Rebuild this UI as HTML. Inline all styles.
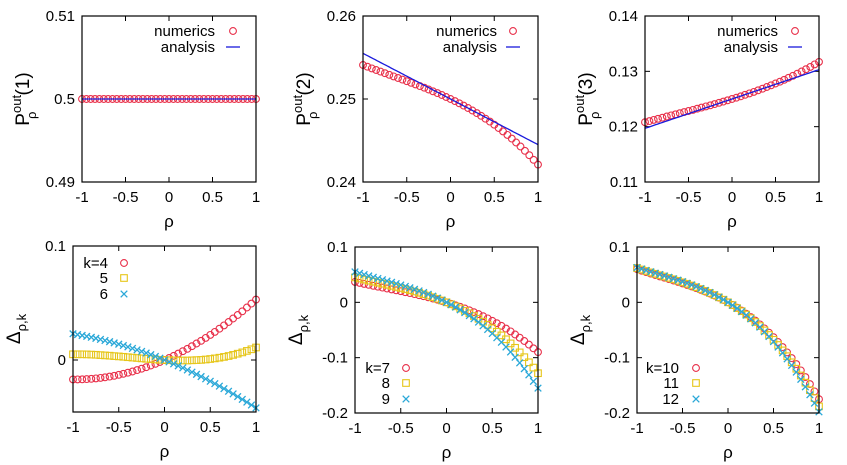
<!DOCTYPE html>
<html><head><meta charset="utf-8"><style>
body{margin:0;background:#fff;}
svg{display:block;font-family:"Liberation Sans",sans-serif;}
</style></head><body>
<svg id="s" width="847" height="465" xmlns="http://www.w3.org/2000/svg"></svg>
<script>
const S=document.getElementById('s');let h='';
const R='#e8304a',Y='#e6c619',C='#2aa8d8',B='#1a1adc';
function panel(p){
 const {x0,x1,y0,y1,ymin,ymax,yt,ylab}=p;
 const X=v=>x0+(v+1)/2*(x1-x0), Yf=v=>y1-(v-ymin)/(ymax-ymin)*(y1-y0);
 for(const t of [-1,-0.5,0,0.5,1]){const xx=X(t);
  h+=`<line x1="${xx}" y1="${y1}" x2="${xx}" y2="${y1-5}" stroke="#000"/><line x1="${xx}" y1="${y0}" x2="${xx}" y2="${y0+5}" stroke="#000"/>`;
  h+=`<text x="${xx}" y="${y1+20}" font-size="15" text-anchor="middle">${t}</text>`;}
 for(const t of yt){const yy=Yf(t[0]);
  h+=`<line x1="${x0}" y1="${yy}" x2="${x0+5}" y2="${yy}" stroke="#000"/><line x1="${x1}" y1="${yy}" x2="${x1-5}" y2="${yy}" stroke="#000"/>`;
  h+=`<text x="${x0-7}" y="${yy+5}" font-size="15" text-anchor="end">${t[1]}</text>`;}
 h+=`<text x="${(x0+x1)/2}" y="${y1+45}" font-size="17" text-anchor="middle">ρ</text>`;
 const cx=x0-53, cy=(y0+y1)/2;
 h+=`<g transform="translate(${cx},${cy}) rotate(-90)">${ylab}</g>`;
 for(const s of p.series){
  if(s.line){let d='';for(let i=0;i<=100;i++){const v=-1+i/50;d+=(i?'L':'M')+X(v).toFixed(1)+' '+Yf(s.f(v)).toFixed(1);}
   h+=`<path d="${d}" fill="none" stroke="${B}" stroke-width="1.3"/>`;continue;}
  for(let i=0;i<=40;i++){const v=-1+i*0.05;mark(s.m,X(v),Yf(s.f(v)));}
 }
 h+=`<rect x="${x0}" y="${y0}" width="${x1-x0}" height="${y1-y0}" fill="none" stroke="#000" stroke-width="1.2"/>`;
}
function mark(m,x,y){
 if(m=='o')h+=`<circle cx="${x.toFixed(1)}" cy="${y.toFixed(1)}" r="3.4" fill="none" stroke="${R}" stroke-width="1.1"/>`;
 else if(m=='s')h+=`<rect x="${(x-3.3).toFixed(1)}" y="${(y-3.3).toFixed(1)}" width="6.6" height="6.6" fill="none" stroke="${Y}" stroke-width="1.1"/>`;
 else h+=`<path d="M${x-3.3} ${y-3.3}L${x+3.3} ${y+3.3}M${x-3.3} ${y+3.3}L${x+3.3} ${y-3.3}" stroke="${C}" stroke-width="1.3"/>`;
}
const P=(a,b,c)=>v=>a*v+b*v*v+c*v*v*v;
const plab=n=>`<text x="0" y="0" font-size="19" text-anchor="middle">P<tspan font-size="13" dy="-8">out</tspan><tspan font-size="13" dx="-24" dy="15">ρ</tspan><tspan dx="16" dy="-7">(${n})</tspan></text>`;
const dlab=`<text x="0" y="0" font-size="19" text-anchor="middle">Δ<tspan font-size="13" dy="6">ρ,k</tspan></text>`;
panel({x0:82,x1:256,y0:16,y1:182,ymin:0.49,ymax:0.51,yt:[[0.49,'0.49'],[0.5,'0.5'],[0.51,'0.51']],ylab:plab(1),
 series:[{m:'o',f:v=>0.5},{line:1,f:v=>0.5}]});
panel({x0:363,x1:538,y0:16,y1:182,ymin:0.24,ymax:0.26,yt:[[0.24,'0.24'],[0.25,'0.25'],[0.26,'0.26']],ylab:plab(2),
 series:[{m:'o',f:v=>0.25-0.005*v-0.0019*v*v-0.001*v*v*v},{line:1,f:v=>0.25-0.0055*v}]});
panel({x0:645,x1:819,y0:16,y1:182,ymin:0.11,ymax:0.14,yt:[[0.11,'0.11'],[0.12,'0.12'],[0.13,'0.13'],[0.14,'0.14']],ylab:plab(3),
 series:[{m:'o',f:v=>0.125+0.0048*v+0.00125*v*v+0.00065*v*v*v},{line:1,f:v=>0.125+0.0053*v}]});
panel({x0:73,x1:256,y0:246,y1:412,ymin:-0.0456,ymax:0.1,yt:[[0,'0'],[0.1,'0.1']],ylab:dlab,
 series:[{m:'o',f:P(0.035,0.018,0)},{m:'s',f:P(-0.004,0.008,0.007)},{m:'x',f:P(-0.0325,-0.0095,0)}]});
panel({x0:355,x1:538,y0:247,y1:413,ymin:-0.2,ymax:0.1,yt:[[-0.2,'-0.2'],[-0.1,'-0.1'],[0,'0'],[0.1,'0.1']],ylab:dlab,
 series:[{m:'o',f:P(-0.05,-0.0265,-0.0135)},{m:'s',f:P(-0.068,-0.0415,-0.0185)},{m:'x',f:P(-0.082,-0.05,-0.023)}]});
panel({x0:637,x1:819,y0:247,y1:413,ymin:-0.2,ymax:0.1,yt:[[-0.2,'-0.2'],[-0.1,'-0.1'],[0,'0'],[0.1,'0.1']],ylab:dlab,
 series:[{m:'o',f:P(-0.0905,-0.0575,-0.027)},{m:'s',f:P(-0.097,-0.063,-0.028)},{m:'x',f:P(-0.101,-0.0675,-0.0295)}]});
function tl(x,y,t){h+=`<text x="${x}" y="${y+5}" font-size="15" text-anchor="end">${t}</text>`;}
for(const [te,mx] of [[215,233],[497,513],[778,795]]){
 tl(te,31,'numerics');mark('o',mx,31);tl(te,47,'analysis');h+=`<line x1="${mx-7}" y1="47" x2="${mx+7}" y2="47" stroke="${B}" stroke-width="1.3"/>`;}
function kl(te,mx,ys,labs){labs.forEach((t,i)=>{tl(te,ys[i],t);mark(['o','s','x'][i],mx,ys[i]);});}
kl(108,124,[263,278,294],['k=4','5','6']);
kl(390,406,[368,383,399],['k=7','8','9']);
kl(679,696,[368,383,399],['k=10','11','12']);
S.innerHTML=h;
</script>
</body></html>
